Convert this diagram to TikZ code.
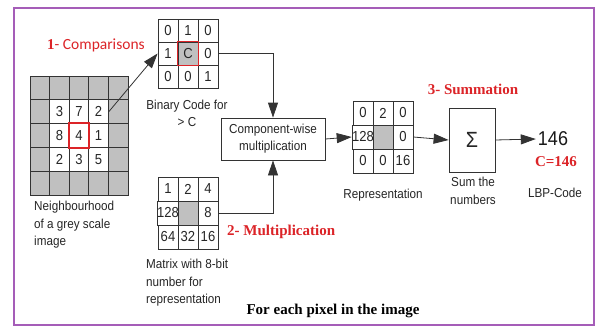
\documentclass[tikz,border=0pt]{standalone}
\usepackage{fontspec}
\setmainfont[FakeStretch=0.9]{Liberation Sans}
\newfontfamily\tnr{Liberation Serif}
\newfontfamily\cali{Carlito}
\usetikzlibrary{arrows.meta}
\definecolor{lbpred}{HTML}{DC2428}
\definecolor{framepurple}{HTML}{A55DB8}
\definecolor{cellgray}{HTML}{C0C0C0}
\definecolor{linegray}{HTML}{333333}
\begin{document}
\begin{tikzpicture}[x=1pt,y=-1pt,
  lbl/.style={font=\fontsize{13}{17.5}\selectfont, inner sep=0pt, text=black!85},
  cellnum/.style={font=\fontsize{14.5}{15}\selectfont, inner sep=0pt, text=black!85, draw=linegray, line width=0.8pt},
  lcell/.style={cellnum, minimum width=19.6pt, minimum height=23.8pt},
  bcell/.style={cellnum, minimum width=20pt, minimum height=23pt},
  rcell/.style={cellnum, minimum width=20pt, minimum height=24pt},
  redbox/.style={draw=lbpred, line width=1.6pt},
  conn/.style={draw=linegray, line width=0.8pt, -{Triangle[length=15pt,width=10pt]}},
  redtitle/.style={font=\tnr\bfseries\fontsize{15}{16}\selectfont, text=lbpred, inner sep=0pt},
  procbox/.style={draw=linegray, line width=0.8pt, fill=white, inner sep=0pt}]
\useasboundingbox (0,0) rectangle (597,329);
\fill[white] (0,0) rectangle (597,329);
% frame
\draw[framepurple, line width=2pt] (14,8) rectangle (594,325);

% left 5x5 neighbourhood grid
\foreach \r in {1,...,5}
  \foreach \c in {1,...,5}
    \node[lcell, fill=cellgray] (L-\r-\c) at ({30+(\c-0.5)*19.6},{76+(\r-0.5)*23.8}) {};
\foreach \r/\c/\t in {2/2/3,2/3/7,2/4/2,3/2/8,3/3/4,3/4/1,4/2/2,4/3/3,4/4/5}
  \node[lcell, fill=white] (L-\r-\c) at ({30+(\c-0.5)*19.6},{76+(\r-0.5)*23.8}) {\t};
\draw[redbox] (L-3-3.north west) rectangle (L-3-3.south east);

% binary code grid
\foreach \r/\c/\t in {1/1/0,1/2/1,1/3/0,2/1/1,2/3/0,3/1/0,3/2/0,3/3/1}
  \node[bcell, fill=white] (B-\r-\c) at ({158+(\c-0.5)*20},{19+(\r-0.5)*23}) {\t};
\node[bcell, fill=cellgray] (B-2-2) at ({158+1.5*20},{19+1.5*23}) {C};
\draw[redbox] (B-2-2.north west) rectangle (B-2-2.south east);

% matrix with 8-bit numbers
\foreach \r/\c/\t in {1/1/1,1/2/2,1/3/4,2/1/128,2/3/8,3/1/64,3/2/32,3/3/16}
  \node[rcell, fill=white] (M-\r-\c) at ({158+(\c-0.5)*20},{177+(\r-0.5)*24}) {\t};
\node[rcell, fill=cellgray] (M-2-2) at ({158+1.5*20},{177+1.5*24}) {};

% representation grid
\foreach \r/\c/\t in {1/1/0,1/2/2,1/3/0,2/1/128,2/3/0,3/1/0,3/2/0,3/3/16}
  \node[rcell, fill=white] (R-\r-\c) at ({353+(\c-0.5)*20},{101+(\r-0.5)*24}) {\t};
\node[rcell, fill=cellgray] (R-2-2) at ({353+1.5*20},{101+1.5*24}) {};

% process boxes
\node[procbox, minimum width=104pt, minimum height=42pt, align=center,
      font=\fontsize{13}{17}\selectfont, text=black!85] (comp) at (273,139)
      {Component-wise\\multiplication};
\node[procbox, minimum width=46pt, minimum height=64pt,
      font=\fontsize{22}{22}\selectfont, text=black!85] (sigma) at (472,140) {Σ};
\node[font=\fontsize{20}{20}\selectfont, inner sep=2pt, text=black!90] (result) at (553,139) {146};

% connectors
\draw[conn] (L-2-4.east) -- (B-2-1.west);
\draw[conn] (B-2-3.east) -| (comp.north);
\draw[conn] (M-2-3.east) -| (comp.south);
\draw[conn] (comp.east) -- (R-2-1.west);
\draw[conn] (R-2-3.east) -- (sigma.west);
\draw[conn] (sigma.east) -- (result.west);

% labels
\node[anchor=west, inner sep=0pt, text=lbpred] (t1) at (47,45)
  {{\tnr\bfseries\fontsize{15}{16}\selectfont 1}{\cali\fontsize{15.5}{16}\selectfont - Comparisons}};
\node[lbl, align=center] (lb1) at (187,113.5) {Binary Code for\\> C};
\node[lbl, align=left, anchor=north west] (lb2) at (34,201) {Neighbourhood\\of a grey scale\\image};
\node[lbl, align=left, anchor=north west] (lb3) at (146,259) {Matrix with 8-bit\\number for\\representation};
\node[lbl] (lb4) at (383,195) {Representation};
\node[lbl, align=center] (lb5) at (473,191) {Sum the\\numbers};
\node[lbl] (lb6) at (555,193) {LBP-Code};
\node[redtitle, anchor=west] (t2) at (227,232) {2- Multiplication};
\node[redtitle] (t3) at (473,89) {3- Summation};
\node[redtitle] (t4) at (556,162) {C=146};
\node[font=\tnr\bfseries\fontsize{15}{16}\selectfont, inner sep=0pt] (t5) at (333,311) {For each pixel in the image};
\end{tikzpicture}
\end{document}
